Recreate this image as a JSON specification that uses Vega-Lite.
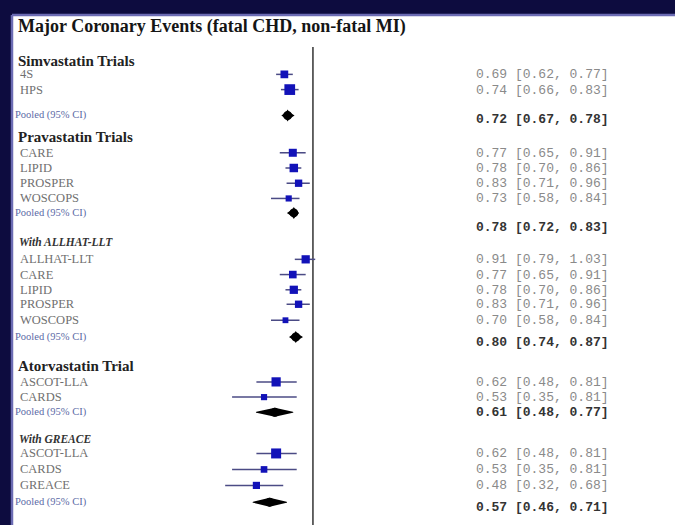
{
  "$schema": "https://vega.github.io/schema/vega-lite/v6.json",
  "width": 663,
  "height": 510,
  "autosize": {"type": "none"},
  "padding": {"left": 12, "top": 15, "right": 0, "bottom": 0},
  "background": "#0d0c3f",
  "config": {"view": {"fill": "white", "stroke": null}},
  "data": {"values": [
    {"kind": "title", "label": "Major Coronary Events (fatal CHD, non-fatal MI)", "line": 0.8},
    {"kind": "header", "label": "Simvastatin Trials", "line": 3.0},
    {"kind": "study", "grp": "simva", "label": "4S", "line": 3.9, "tline": 3.9, "est": 0.69, "lo": 0.62, "hi": 0.77, "weight": 60, "ci": "0.69 [0.62, 0.77]"},
    {"kind": "study", "grp": "simva", "label": "HPS", "line": 4.9, "tline": 4.9, "est": 0.74, "lo": 0.66, "hi": 0.83, "weight": 115, "ci": "0.74 [0.66, 0.83]"},
    {"kind": "pooled", "grp": "simva", "label": "Pooled (95% CI)", "line": 6.6, "tline": 6.85, "est": 0.72, "lo": 0.67, "hi": 0.78, "ci": "0.72 [0.67, 0.78]"},
    {"kind": "header", "label": "Pravastatin Trials", "line": 8.0},
    {"kind": "study", "grp": "prava", "label": "CARE", "line": 9.05, "tline": 9.05, "est": 0.77, "lo": 0.65, "hi": 0.91, "weight": 64, "ci": "0.77 [0.65, 0.91]"},
    {"kind": "study", "grp": "prava", "label": "LIPID", "line": 10.05, "tline": 10.05, "est": 0.78, "lo": 0.70, "hi": 0.86, "weight": 72, "ci": "0.78 [0.70, 0.86]"},
    {"kind": "study", "grp": "prava", "label": "PROSPER", "line": 11.05, "tline": 11.05, "est": 0.83, "lo": 0.71, "hi": 0.96, "weight": 54, "ci": "0.83 [0.71, 0.96]"},
    {"kind": "study", "grp": "prava", "label": "WOSCOPS", "line": 12.05, "tline": 12.05, "est": 0.73, "lo": 0.58, "hi": 0.84, "weight": 38, "ci": "0.73 [0.58, 0.84]"},
    {"kind": "pooled", "grp": "prava", "label": "Pooled (95% CI)", "line": 13.0, "tline": 13.95, "est": 0.78, "lo": 0.72, "hi": 0.83, "ci": "0.78 [0.72, 0.83]"},
    {"kind": "subheader", "label": "With ALLHAT-LLT", "line": 15.0},
    {"kind": "study", "grp": "allhat", "label": "ALLHAT-LLT", "line": 16.05, "tline": 16.05, "est": 0.91, "lo": 0.79, "hi": 1.03, "weight": 68, "ci": "0.91 [0.79, 1.03]"},
    {"kind": "study", "grp": "allhat", "label": "CARE", "line": 17.05, "tline": 17.05, "est": 0.77, "lo": 0.65, "hi": 0.91, "weight": 58, "ci": "0.77 [0.65, 0.91]"},
    {"kind": "study", "grp": "allhat", "label": "LIPID", "line": 18.05, "tline": 18.05, "est": 0.78, "lo": 0.70, "hi": 0.86, "weight": 68, "ci": "0.78 [0.70, 0.86]"},
    {"kind": "study", "grp": "allhat", "label": "PROSPER", "line": 19.0, "tline": 19.0, "est": 0.83, "lo": 0.71, "hi": 0.96, "weight": 54, "ci": "0.83 [0.71, 0.96]"},
    {"kind": "study", "grp": "allhat", "label": "WOSCOPS", "line": 20.05, "tline": 20.05, "est": 0.70, "lo": 0.58, "hi": 0.84, "weight": 34, "ci": "0.70 [0.58, 0.84]"},
    {"kind": "pooled", "grp": "allhat", "label": "Pooled (95% CI)", "line": 21.15, "tline": 21.5, "est": 0.80, "lo": 0.74, "hi": 0.87, "ci": "0.80 [0.74, 0.87]"},
    {"kind": "header", "label": "Atorvastatin Trial", "line": 23.05},
    {"kind": "study", "grp": "atorva", "label": "ASCOT-LLA", "line": 24.1, "tline": 24.1, "est": 0.62, "lo": 0.48, "hi": 0.81, "weight": 85, "ci": "0.62 [0.48, 0.81]"},
    {"kind": "study", "grp": "atorva", "label": "CARDS", "line": 25.1, "tline": 25.1, "est": 0.53, "lo": 0.35, "hi": 0.81, "weight": 38, "ci": "0.53 [0.35, 0.81]"},
    {"kind": "pooled", "grp": "atorva", "label": "Pooled (95% CI)", "line": 26.1, "tline": 26.05, "est": 0.61, "lo": 0.48, "hi": 0.77, "ci": "0.61 [0.48, 0.77]"},
    {"kind": "subheader", "label": "With GREACE", "line": 27.9},
    {"kind": "study", "grp": "greace", "label": "ASCOT-LLA", "line": 28.8, "tline": 28.8, "est": 0.62, "lo": 0.48, "hi": 0.81, "weight": 100, "ci": "0.62 [0.48, 0.81]"},
    {"kind": "study", "grp": "greace", "label": "CARDS", "line": 29.85, "tline": 29.85, "est": 0.53, "lo": 0.35, "hi": 0.81, "weight": 44, "ci": "0.53 [0.35, 0.81]"},
    {"kind": "study", "grp": "greace", "label": "GREACE", "line": 30.9, "tline": 30.9, "est": 0.48, "lo": 0.32, "hi": 0.68, "weight": 52, "ci": "0.48 [0.32, 0.68]"},
    {"kind": "pooled", "grp": "greace", "label": "Pooled (95% CI)", "line": 32.0, "tline": 32.3, "est": 0.57, "lo": 0.46, "hi": 0.71, "ci": "0.57 [0.46, 0.71]"}
  ]},
  "encoding": {
    "y": {"field": "line", "type": "quantitative", "scale": {"domain": [0, 33.5], "reverse": true, "nice": false, "zero": false}, "axis": null}
  },
  "layer": [
    {
      "transform": [{"filter": "datum.kind == 'title'"}],
      "mark": {"type": "rule", "color": "#6b6bb3", "strokeWidth": 2.5},
      "encoding": {"y": {"datum": 0, "type": "quantitative"}}
    },
    {
      "transform": [{"filter": "datum.kind == 'title'"}],
      "mark": {"type": "rule", "color": "#6b6bb3", "strokeWidth": 2.5},
      "encoding": {
        "x": {"datum": 0.0201, "type": "quantitative", "scale": {"type": "log", "domain": [0.0201, 110], "nice": false}, "axis": null},
        "y": {"datum": 0, "type": "quantitative"},
        "y2": {"datum": 33.5}
      }
    },
    {
      "transform": [{"filter": "datum.kind == 'title'"}],
      "mark": {"type": "rule", "color": "#333333", "strokeWidth": 1.5},
      "encoding": {
        "x": {"datum": 1, "type": "quantitative", "scale": {"type": "log", "domain": [0.0201, 110], "nice": false}, "axis": null},
        "y": {"datum": 2.1, "type": "quantitative"},
        "y2": {"datum": 33.5}
      }
    },
    {
      "transform": [{"filter": "datum.kind == 'study'"}],
      "mark": {"type": "rule", "color": "#4b4b85", "strokeWidth": 1.5},
      "encoding": {
        "x": {"field": "lo", "type": "quantitative", "scale": {"type": "log", "domain": [0.0201, 110], "nice": false}, "axis": null},
        "x2": {"field": "hi"}
      }
    },
    {
      "transform": [{"filter": "datum.kind == 'study'"}],
      "mark": {"type": "point", "shape": "square", "filled": true, "color": "#1212b8", "opacity": 1},
      "encoding": {
        "x": {"field": "est", "type": "quantitative", "scale": {"type": "log", "domain": [0.0201, 110], "nice": false}, "axis": null},
        "size": {"field": "weight", "type": "quantitative", "scale": {"type": "linear", "domain": [0, 100], "range": [0, 100]}, "legend": null}
      }
    },
    {
      "transform": [{"filter": "datum.kind == 'pooled'"}, {"fold": ["lo", "est"], "as": ["k", "v"]}],
      "mark": {"type": "trail", "color": "#000000"},
      "encoding": {
        "x": {"field": "v", "type": "quantitative", "scale": {"type": "log", "domain": [0.0201, 110], "nice": false}, "axis": null},
        "detail": {"field": "grp"},
        "size": {"field": "k", "type": "nominal", "scale": {"type": "point", "domain": ["lo", "est"], "range": [0, 9]}, "legend": null}
      }
    },
    {
      "transform": [{"filter": "datum.kind == 'pooled'"}, {"fold": ["hi", "est"], "as": ["k", "v"]}],
      "mark": {"type": "trail", "color": "#000000"},
      "encoding": {
        "x": {"field": "v", "type": "quantitative", "scale": {"type": "log", "domain": [0.0201, 110], "nice": false}, "axis": null},
        "detail": {"field": "grp"},
        "size": {"field": "k", "type": "nominal", "scale": {"type": "point", "domain": ["hi", "est"], "range": [0, 9]}, "legend": null}
      }
    },
    {
      "transform": [{"filter": "datum.kind == 'pooled' && datum.hi / datum.lo < 1.3"}],
      "mark": {"type": "point", "shape": "M0,-1L0.62,0L0,1L-0.62,0Z", "filled": true, "color": "#000000", "opacity": 1, "size": 144},
      "encoding": {
        "x": {"field": "est", "type": "quantitative", "scale": {"type": "log", "domain": [0.0201, 110], "nice": false}, "axis": null}
      }
    },
    {
      "transform": [{"filter": "datum.kind == 'title'"}],
      "mark": {"type": "text", "align": "left", "baseline": "middle", "dx": 6, "font": "Liberation Serif", "fontWeight": "bold", "fontSize": 18, "color": "#151515"},
      "encoding": {
        "x": {"datum": 0.0201, "type": "quantitative", "scale": {"type": "log", "domain": [0.0201, 110], "nice": false}, "axis": null},
        "text": {"field": "label"}
      }
    },
    {
      "transform": [{"filter": "datum.kind == 'header'"}],
      "mark": {"type": "text", "align": "left", "baseline": "middle", "dx": 6, "font": "Liberation Serif", "fontWeight": "bold", "fontSize": 15, "color": "#222222"},
      "encoding": {
        "x": {"datum": 0.0201, "type": "quantitative", "scale": {"type": "log", "domain": [0.0201, 110], "nice": false}, "axis": null},
        "text": {"field": "label"}
      }
    },
    {
      "transform": [{"filter": "datum.kind == 'subheader'"}],
      "mark": {"type": "text", "align": "left", "baseline": "middle", "dx": 7, "font": "Liberation Serif", "fontWeight": "bold", "fontStyle": "italic", "fontSize": 11.5, "color": "#333333"},
      "encoding": {
        "x": {"datum": 0.0201, "type": "quantitative", "scale": {"type": "log", "domain": [0.0201, 110], "nice": false}, "axis": null},
        "text": {"field": "label"}
      }
    },
    {
      "transform": [{"filter": "datum.kind == 'study'"}],
      "mark": {"type": "text", "align": "left", "baseline": "middle", "dx": 8, "font": "Liberation Serif", "fontSize": 12.5, "color": "#707070"},
      "encoding": {
        "x": {"datum": 0.0201, "type": "quantitative", "scale": {"type": "log", "domain": [0.0201, 110], "nice": false}, "axis": null},
        "text": {"field": "label"}
      }
    },
    {
      "transform": [{"filter": "datum.kind == 'pooled'"}],
      "mark": {"type": "text", "align": "left", "baseline": "middle", "dx": 3, "font": "Liberation Serif", "fontSize": 10.5, "color": "#5b6aa6"},
      "encoding": {
        "x": {"datum": 0.0201, "type": "quantitative", "scale": {"type": "log", "domain": [0.0201, 110], "nice": false}, "axis": null},
        "text": {"field": "label"}
      }
    },
    {
      "transform": [{"filter": "datum.kind == 'study'"}],
      "mark": {"type": "text", "align": "left", "baseline": "middle", "font": "Liberation Mono", "fontSize": 13, "color": "#8a8a8a"},
      "encoding": {
        "x": {"datum": 8.3, "type": "quantitative", "scale": {"type": "log", "domain": [0.0201, 110], "nice": false}, "axis": null},
        "y": {"field": "tline", "type": "quantitative", "scale": {"domain": [0, 33.5], "reverse": true, "nice": false, "zero": false}, "axis": null},
        "text": {"field": "ci"}
      }
    },
    {
      "transform": [{"filter": "datum.kind == 'pooled'"}],
      "mark": {"type": "text", "align": "left", "baseline": "middle", "font": "Liberation Mono", "fontWeight": "bold", "fontSize": 13, "color": "#333333"},
      "encoding": {
        "x": {"datum": 8.3, "type": "quantitative", "scale": {"type": "log", "domain": [0.0201, 110], "nice": false}, "axis": null},
        "y": {"field": "tline", "type": "quantitative", "scale": {"domain": [0, 33.5], "reverse": true, "nice": false, "zero": false}, "axis": null},
        "text": {"field": "ci"}
      }
    }
  ],
  "resolve": {"scale": {"size": "independent"}}
}
